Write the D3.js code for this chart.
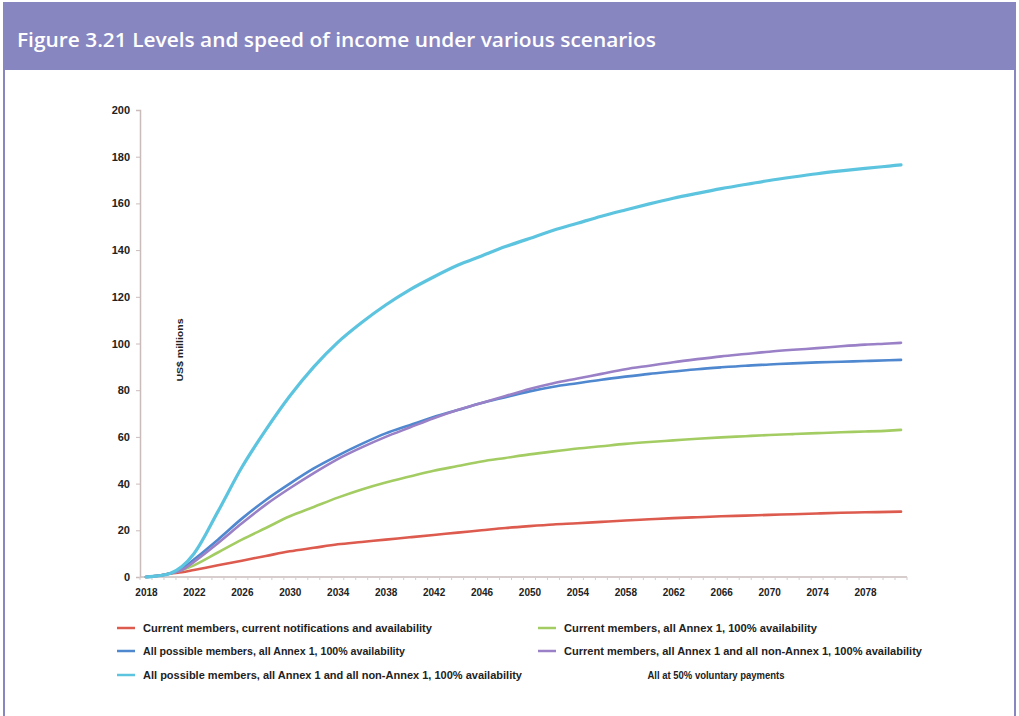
<!DOCTYPE html>
<html><head><meta charset="utf-8">
<script src="https://cdn.jsdelivr.net/npm/d3@7"></script>
<style>body{margin:0;background:#fff}svg{display:block}</style>
</head><body>
<svg id="c" width="1019" height="716"></svg>
<script>
const years = [2018,2019,2020,2021,2022,2024,2026,2028,2030,2032,2034,2036,2038,2040,2042,2044,2046,2048,2050,2052,2054,2056,2058,2060,2062,2064,2066,2068,2070,2072,2074,2076,2078,2080,2081];
const currentMembersCurrent = [0,0.5,1.5,2,3,5,7,9,11,12.5,14,15,16,17,18,19,20,21,21.8,22.5,23,23.6,24.2,24.7,25.2,25.6,26,26.3,26.6,26.9,27.2,27.5,27.7,27.9,28];
const currentMembersAnnex1 = [0,0.5,1.5,3,5,10.5,16,21,26,30,34,37.5,40.5,43,45.5,47.5,49.5,51,52.5,53.8,55,56,57,57.8,58.5,59.2,59.8,60.3,60.8,61.2,61.6,62,62.3,62.7,63];
const allPossibleAnnex1 = [0,0.5,1.5,3.5,7.5,16,25,33,40,46.5,52,57,61.5,65,68.5,71.5,74.5,77,79.5,81.5,83,84.5,85.8,87,88,89,89.8,90.5,91,91.5,91.9,92.2,92.5,92.8,93];
const currentMembersAll = [0,0.5,1.5,3,6.5,14.5,23,31,38,44.5,50.5,55.5,60,64,68,71.5,74.5,77.5,80.5,83,85,87,89,90.5,92,93.3,94.5,95.5,96.5,97.3,98,98.8,99.5,100,100.3];
const allPossibleAll = [0,0.5,1.5,4.5,10,28,47,63,77.5,90,100.5,109,116.5,123,128.5,133.5,137.5,141.5,145,148.5,151.5,154.5,157.2,159.8,162.2,164.3,166.3,168.1,169.8,171.3,172.7,173.9,175,176,176.5];
const categories = d3.range(2018, 2082);
const xTickLabels = d3.range(2018, 2079, 4);
const yTickValues = d3.range(0, 201, 20);
const seriesNames = [
  "Current members, current notifications and availability",
  "Current members, all Annex 1, 100% availability",
  "All possible members, all Annex 1, 100% availability",
  "Current members, all Annex 1 and all non-Annex 1, 100% availability",
  "All possible members, all Annex 1 and all non-Annex 1, 100% availability"
];
const seriesValues = [currentMembersCurrent, currentMembersAnnex1, allPossibleAnnex1, currentMembersAll, allPossibleAll];
const colors = ["#dd5a4e", "#a3cc63", "#4f88cf", "#9a80c6", "#5cc4df"];
const title = "Figure 3.21 Levels and speed of income under various scenarios";
const note = "All at 50% voluntary payments";
const yLabel = "US$ millions";

const svg = d3.select("#c");
const purple = "#8886c0";
// frame
svg.append("rect").attr("x",4).attr("y",3).attr("width",1011).attr("height",720)
  .attr("fill","#fff").attr("stroke",purple).attr("stroke-width",2);
svg.append("rect").attr("x",3).attr("y",3).attr("width",1013).attr("height",67).attr("fill",purple);
svg.append("text").attr("x",17).attr("y",47).text(title)
  .attr("fill","#fff").attr("font-family","Open Sans, sans-serif").attr("font-weight","600")
  .attr("font-size",19).attr("textLength",639).attr("lengthAdjust","spacingAndGlyphs");

const x0 = 140, x1 = 907, yTop = 110, yBot = 577;
const x = d3.scaleLinear().domain([categories[0]-0.5, categories[categories.length-1]+0.5]).range([x0, x1]);
const y = d3.scaleLinear().domain([0,200]).range([yBot, yTop]);

// y axis
const yAxis = d3.axisLeft(y).tickValues(yTickValues).tickSize(4).tickPadding(6);
const gy = svg.append("g").attr("transform",`translate(${x0},0)`).call(yAxis);
gy.select(".domain").attr("stroke","#cbbcbc").attr("stroke-width",1.5);
gy.selectAll(".tick line").attr("stroke","#cbbcbc");
gy.selectAll("text").attr("font-family","Liberation Sans, Arial, sans-serif").attr("font-weight","bold")
  .attr("font-size",11).attr("fill","#222");

// x axis
const gx = svg.append("g").attr("transform",`translate(0,${yBot})`);
gx.append("line").attr("x1",x0).attr("x2",x1).attr("stroke","#cbbcbc").attr("stroke-width",1.5);
gx.selectAll("line.mt").data(categories.concat([categories[categories.length-1]+1])).join("line")
  .attr("class","mt").attr("x1",d=>x(d-0.5)).attr("x2",d=>x(d-0.5)).attr("y1",0).attr("y2",3)
  .attr("stroke","#d6cccc");
const xAxis = d3.axisBottom(x).tickValues(xTickLabels).tickSize(0).tickPadding(12).tickFormat(d3.format("d"));
const gxa = svg.append("g").attr("transform",`translate(0,${yBot})`).call(xAxis);
gxa.select(".domain").remove();
gxa.selectAll("text").attr("font-family","Liberation Sans, Arial, sans-serif").attr("font-weight","bold")
  .attr("font-size",10).attr("fill","#222");

// y label
svg.append("text").attr("transform","translate(183,350) rotate(-90)").attr("text-anchor","middle")
  .text(yLabel).attr("font-family","Liberation Sans, Arial, sans-serif").attr("font-weight","bold")
  .attr("font-size",9.5).attr("fill","#222").attr("textLength",63).attr("lengthAdjust","spacingAndGlyphs");

// lines
const line = d3.line().x((d,i)=>x(years[i])).y(d=>y(d)).curve(d3.curveMonotoneX);
seriesValues.forEach((vals,i)=>{
  svg.append("path").attr("d",line(vals)).attr("fill","none").attr("stroke",colors[i])
    .attr("stroke-width",i===4?3.2:2.6).attr("stroke-linecap","round").attr("stroke-linejoin","round");
});

// legend
const legendPos = [[117,628,289],[538,628,253],[117,651,262],[538,651,358],[117,675,379]];
seriesNames.forEach((n,i)=>{
  const [lx,ly,tl] = legendPos[i];
  svg.append("line").attr("x1",lx).attr("x2",lx+18).attr("y1",ly).attr("y2",ly)
    .attr("stroke",colors[i]).attr("stroke-width",2.5);
  svg.append("text").attr("x",lx+26).attr("y",ly+3.5).text(n)
    .attr("font-family","Liberation Sans, Arial, sans-serif").attr("font-weight","bold")
    .attr("font-size",10).attr("fill","#222").attr("textLength",tl).attr("lengthAdjust","spacingAndGlyphs");
});
svg.append("text").attr("x",716).attr("y",678.5).attr("text-anchor","middle").text(note)
  .attr("font-family","Liberation Sans, Arial, sans-serif").attr("font-weight","bold")
  .attr("font-size",10).attr("fill","#222").attr("textLength",137).attr("lengthAdjust","spacingAndGlyphs");
</script>
</body></html>
